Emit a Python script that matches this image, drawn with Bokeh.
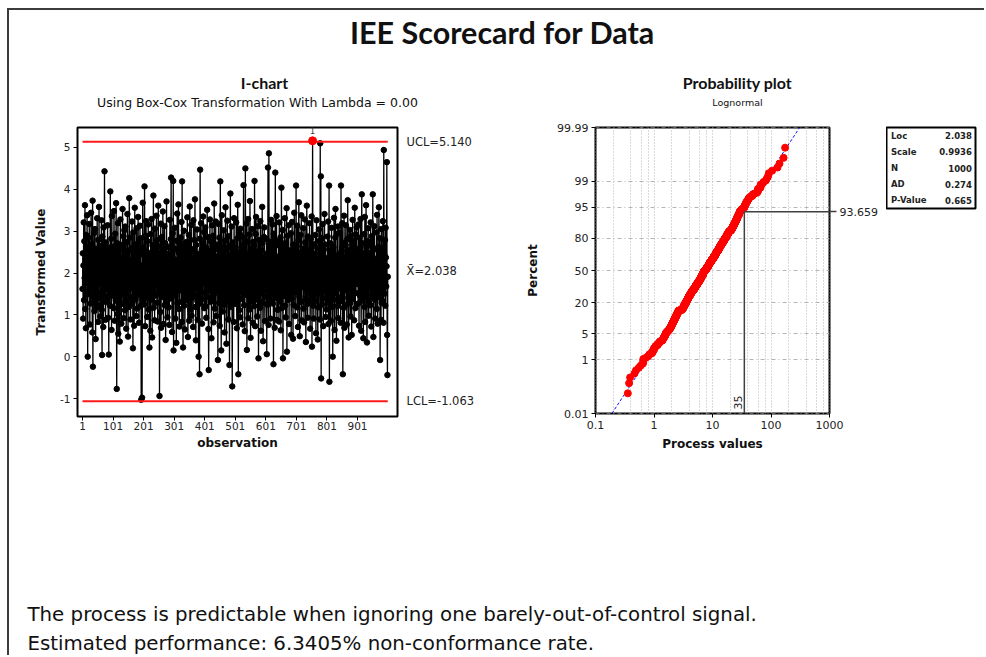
import math
from statistics import NormalDist
from bokeh.plotting import figure
from bokeh.models import Range1d, FixedTicker, LinearAxis, Label, ColumnDataSource
from bokeh.layouts import column, row
from bokeh.core.properties import value
from bokeh.embed import file_html
from bokeh.resources import INLINE

# ---------------- data ----------------
TITLE = "IEE Scorecard for Data"
ICHART_TITLE = "I-chart"
ICHART_SUBTITLE = "Using Box-Cox Transformation With Lambda = 0.00"
PROB_TITLE = "Probability plot"
PROB_SUBTITLE = "Lognormal"

UCL = 5.140
CENTER = 2.038
LCL = -1.063
LIMIT_LABELS = ["UCL=5.140", "X\u0304=2.038", "LCL=-1.063"]
OBS_TICKS = [1, 101, 201, 301, 401, 501, 601, 701, 801, 901]
ICHART_YTICKS = [-1, 0, 1, 2, 3, 4, 5]
ICHART_YTICK_LABELS = ["-1", "0", "1", "2", "3", "4", "5"]

transformed = [
    1.62, 2.47, 0.91, 2.18, 3.21, 1.35, 2.76, 1.88, 3.62, 1.14, 2.33, 0.68, 2.91, 1.77, 2.05, 3.38, 1.49, 0.00, 2.62, 1.93,
    2.84, 1.56, 3.17, 2.29, 0.77, 1.98, 2.52, 1.27, 3.44, 2.11, 1.71, 2.69, 0.58, 3.73, -0.24, 2.38, 1.43, 1.84, 2.96, 1.09,
    2.21, 3.05, 1.66, 0.42, 2.58, 1.92, 2.43, 1.18, 3.31, 2.07, 1.53, 0.83, 2.79, 1.39, 3.58, 2.26, 1.81, 2.64, 0.96, 1.24,
    1.74, 2.36, 3.26, 1.12, 0.04, 2.87, 1.95, 2.14, 0.71, 3.09, 1.47, 2.55, 4.43, 1.61, 2.41, 0.88, 1.31, 2.73, 1.86, 2.02,
    2.49, 1.38, 3.14, 2.17, 0.93, 1.69, 0.05, 2.61, 1.83, 2.32, 1.22, 3.95, 2.08, 1.57, 2.82, 0.64, 3.36, 1.99, 2.44, 1.45,
    1.89, 2.63, 1.16, 3.48, 2.25, 0.86, 1.73, 2.94, 2.12, 1.34, 3.67, 1.58, -0.77, 2.39, 2.71, 1.02, 3.19, 0.55, 1.91, 2.04,
    2.56, 1.44, 0.36, 2.19, 3.28, 1.79, 2.67, 0.79, 1.97, 2.35, 1.26, 3.53, 2.09, 1.64, 2.88, 0.92, 1.51, 3.02, 2.28, 1.11,
    3.11, 1.87, 2.42, 0.67, 1.33, 2.74, 1.59, 3.41, 2.16, 0.48, 1.96, 2.53, 1.19, 3.79, 2.01, 1.68, 2.85, 0.89, 1.42, 2.31,
    1.76, 2.59, 3.23, 1.28, 2.13, 0.20, 2.97, 1.63, 2.46, 0.74, 1.85, 3.56, 2.22, 1.37, 2.68, 1.94, 0.97, 3.07, 2.37, 1.15,
    2.27, 1.48, 3.34, 1.82, 2.72, 0.81, 2.06, 1.67, 3.13, 2.44, 1.21, 2.83, -1.03, 1.93, 2.18, -0.98, 1.56, 3.68, 2.61, 1.32,
    1.97, 2.54, 1.25, 4.07, 2.15, 0.73, 1.78, 2.89, 3.24, 1.41, 2.34, 1.61, 0.95, 2.76, 1.88, 3.16, 2.03, 1.13, 2.48, 0.22,
    1.64, 2.41, 0.62, 2.93, 1.36, 2.17, 3.29, 1.84, 0.46, 2.66, 1.55, 2.24, 3.85, 1.17, 2.57, 1.99, 0.87, 3.06, 2.11, 1.46,
    2.38, 1.72, 3.37, 2.05, 1.29, 2.78, 0.84, 1.91, 3.61, 2.23, 1.52, 2.64, -0.94, 1.81, 2.47, 1.07, 3.18, 0.69, 2.12, 1.66,
    2.86, 1.43, 2.19, 3.47, 1.77, 0.78, 2.52, 1.94, 3.12, 1.23, 2.35, 2.71, 0.40, 1.58, 2.07, 3.71, 1.34, 2.45, 0.94, 1.86,
    1.95, 2.62, 1.18, 2.29, 0.76, 1.69, 3.27, 2.14, 1.39, 2.81, 4.28, 1.83, 2.42, 0.59, 1.51, 2.95, 2.04, 4.20, 0.15, 1.72,
    2.33, 1.47, 3.08, 2.58, 0.91, 1.87, 2.26, 0.33, 1.62, 2.77, 3.42, 1.28, 2.09, 1.76, 3.64, 2.49, 1.14, 0.72, 2.69, 1.98,
    1.59, 2.85, 2.16, 1.31, 3.22, 0.83, 4.19, 1.92, 2.39, 0.22, 1.71, 2.63, 3.01, 1.22, 2.27, 0.65, 1.84, 2.51, 1.44, 2.02,
    2.74, 1.35, 2.21, 3.33, 1.68, 0.47, 2.44, 1.97, 2.91, 0.86, 1.53, 3.59, 2.13, 1.12, 2.58, 1.79, 3.15, 0.98, 2.36, 1.41,
    1.89, 2.53, 0.71, 3.26, 2.08, 1.46, 2.79, 1.63, 3.76, 2.31, 1.19, 0.39, 2.67, 1.86, 2.18, 3.04, 1.33, 0.88, 2.46, 1.74,
    0.00, 2.37, 1.61, -0.42, 2.82, 4.47, 1.27, 2.14, 3.19, 1.93, 2.56, 0.79, 1.38, 2.72, 1.81, 3.35, 2.24, 1.52, 2.98, 1.16,
    2.43, 1.75, 3.09, 1.21, 2.61, 0.93, 2.17, 1.88, 3.51, 2.34, 1.42, 2.86, 0.66, -0.32, 1.96, 2.52, 1.58, 3.28, 2.09, 1.31,
    1.67, 2.75, 0.44, 2.28, 3.14, 1.37, 2.03, 1.94, 2.89, 0.82, 1.49, 3.66, 2.41, 1.15, 2.57, 1.78, 3.23, 0.97, 2.19, 1.83,
    2.32, 1.56, 2.68, -0.08, 1.91, 3.17, 2.11, 1.29, 2.84, 0.74, 1.72, 4.19, 2.46, 1.41, 0.15, 2.23, 3.38, 1.87, 2.63, 1.08,
    1.79, 2.49, 3.02, 1.24, 2.15, 0.58, 2.77, 1.97, 3.57, 1.45, 2.36, 0.31, 1.64, 2.59, 3.25, 2.06, 1.33, 0.89, 2.88, 1.86,
    2.27, -0.20, 1.73, 2.64, 3.90, 1.19, 2.42, 1.58, 3.11, 2.01, -0.71, 1.84, 2.73, 1.36, 2.18, 0.83, 3.31, 1.95, 2.55, 1.47,
    1.92, 2.61, 1.26, 3.21, 2.39, 0.68, 1.76, 2.83, 3.63, 2.12, -0.42, 1.53, 2.48, 1.11, 2.95, 1.89, 0.94, 3.06, 2.22, 1.64,
    2.53, 1.38, 2.87, 1.81, 0.77, 2.24, 1.67, 4.10, 2.05, 1.23, 2.69, 0.61, 1.94, 4.50, 2.31, 1.48, 3.18, 2.76, 0.16, 1.83,
    2.14, 1.59, 3.29, 0.92, 2.46, 1.74, 2.92, 1.13, 3.72, 2.37, 0.45, 1.98, 2.58, 1.42, 2.21, 3.05, 1.66, 0.81, 2.74, 1.31,
    1.85, 2.67, 1.21, 4.20, 2.09, 0.73, 1.61, 2.93, 3.34, 2.28, 1.46, 2.51, 0.96, 1.92, 3.12, 2.17, -0.04, 1.35, 2.79, 1.77,
    2.42, 1.17, 3.24, 1.88, 0.62, 2.55, 2.03, 1.52, 3.58, 2.71, 1.29, 0.37, 2.19, 1.96, 2.86, 3.09, 1.43, 0.85, 2.34, 1.69,
    2.26, 1.58, 2.81, 0.06, 1.93, 2.47, 1.24, 4.52, 2.12, 0.76, 4.86, 1.71, 2.63, 1.37, 2.35, 0.91, 1.86, 3.27, 2.74, 1.49,
    1.81, 2.58, 3.16, 1.27, 2.21, -0.18, 2.94, 1.63, 2.44, 0.69, 1.95, 4.40, 2.08, 1.41, 2.66, 3.36, 0.88, 1.74, 2.29, 1.12,
    2.39, 1.53, 2.76, 0.84, 3.21, 1.97, 2.15, 1.32, 2.85, 0.63, 1.78, 4.04, 2.52, 1.16, 2.33, 3.03, -0.04, 1.89, 2.61, 1.45,
    1.68, 2.43, 3.31, 1.22, 2.72, 0.94, 2.06, 1.84, 3.55, 0.12, 2.25, 1.57, 2.89, 1.36, 2.18, 3.14, 0.78, 1.92, 2.54, 1.47,
    2.31, 1.73, 2.95, 0.52, 2.13, 1.39, 3.22, 2.47, 1.86, 0.43, 2.68, 1.24, 2.02, 3.44, 1.61, 2.57, 0.97, 1.94, 2.36, 4.09,
    1.54, 2.64, 1.18, 3.13, 2.27, 0.71, 1.83, 2.78, 3.69, 2.11, 1.43, 0.49, 2.49, 1.96, 2.91, 1.31, 3.38, 0.87, 2.22, 1.76,
    2.41, 1.67, 3.07, 1.15, 2.58, 0.82, 2.16, 1.91, 3.28, 2.73, 1.37, 0.35, 1.79, 2.44, 3.61, 2.04, 1.26, 0.93, 2.87, 1.58,
    1.87, 2.53, 1.34, 3.19, 2.28, 0.67, 1.72, 2.82, 2.09, 1.47, 3.35, 0.24, 1.95, 5.16, 2.37, 1.22, 2.69, 0.91, 1.64, 2.18,
    2.46, 1.33, 2.91, 1.77, 0.56, 2.23, 3.26, 1.49, 2.61, 1.94, 0.41, 2.07, 1.18, 2.76, 3.04, 1.62, 2.34, 0.89, 5.10, 1.85,
    4.31, -0.52, 2.14, 1.68, 2.83, 1.25, 3.17, 2.42, 0.73, 1.91, 2.56, 1.39, 3.41, 2.01, 1.57, 2.68, 0.95, 1.82, 2.29, 1.13,
    2.36, 1.61, 2.87, 1.29, 3.23, 0.78, 2.12, 4.09, -0.60, 1.93, 2.49, 1.45, 2.71, 0.86, 1.76, 3.08, 2.24, 1.19, 2.58, 0.00,
    1.84, 2.62, 1.36, 3.32, 2.19, 0.64, 1.97, 2.85, 3.53, 1.52, 2.41, 0.38, 1.71, 2.27, 2.94, 1.21, 3.11, 0.92, 2.06, 1.63,
    2.44, 1.78, 2.97, 1.32, 2.15, 0.81, 4.09, 1.89, 2.53, 1.44, 3.19, 2.31, -0.42, 1.66, 2.72, 1.17, 3.37, 0.69, 2.08, 1.92,
    1.59, 2.67, 3.14, 1.24, 2.38, 0.77, 1.95, 2.81, 3.74, 2.16, 1.41, 0.46, 2.54, 1.83, 2.26, 3.03, 1.28, 0.96, 2.89, 1.73,
    2.21, 0.52, 2.78, 1.63, 3.27, 1.38, 2.43, 1.91, 2.65, 0.87, 1.79, 3.56, 2.12, 1.16, 2.92, 1.52, 2.35, 3.09, 1.86, 2.04,
    1.74, 2.57, 1.27, 3.16, 2.32, 0.74, 1.98, 2.84, 1.46, 2.18, 3.29, 1.67, 0.62, 2.49, 3.88, 1.34, 2.71, 1.89, 2.07, 0.44,
    2.39, 1.56, 2.93, 1.19, 3.34, 0.83, 2.24, 1.81, 3.62, 2.61, 1.43, 0.34, 2.05, 1.95, 2.76, 3.07, 1.31, 0.98, 2.47, 1.69,
    1.93, 2.66, 1.23, 3.21, 2.14, 0.72, 1.77, 2.88, 2.41, 1.48, 3.88, 2.02, 0.47, 1.62, 2.56, 3.12, 1.37, 2.29, 0.91, 1.85,
    2.33, 1.71, 2.97, 1.14, 3.39, 2.18, 0.79, 1.94, 2.62, 1.42, 3.57, 2.26, 1.58, 2.83, -0.08, 1.87, 2.45, 0.88, 3.05, 1.29,
    1.96, 2.58, 1.33, 3.24, 2.11, 0.81, 4.94, 1.76, 2.43, 1.51, 2.79, 1.22, 3.08, 2.37, 1.68, 2.16, 4.65, 0.52, -0.44, 1.91,
]

LOC = 2.038
SCALE = 0.9936
STATS_NAMES = ["Loc", "Scale", "N", "AD", "P-Value"]
STATS_VALUES = ["2.038", "0.9936", "1000", "0.274", "0.665"]
PCT_TICKS = [0.01, 1, 5, 20, 50, 80, 95, 99, 99.99]
PCT_TICK_LABELS = ["0.01", "1", "5", "20", "50", "80", "95", "99", "99.99"]
X_TICKS = [0.1, 1, 10, 100, 1000]
X_TICK_LABELS = ["0.1", "1", "10", "100", "1000"]
X_MINOR = [0.2, 0.4, 0.6, 0.8, 2, 4, 6, 8, 20, 40, 60, 80, 200, 400, 600, 800]
TARGET = 35
TARGET_PCT = 93.659
TARGET_PCT_LABEL = "93.659"
FOOTER_LINES = [
    "The process is predictable when ignoring one barely-out-of-control signal.",
    "Estimated performance: 6.3405% non-conformance rate.",
]

# ---------------- styling ----------------
FONT = "DejaVu Sans"
TFONT = "Lato"
GRID = "#b4b4b4"
N = len(transformed)
obs = list(range(1, N + 1))
nd = NormalDist()


def base_fig(**kw):
    p = figure(output_backend="svg", toolbar_location=None, tools="", **kw)
    p.background_fill_color = "white"
    p.border_fill_color = "white"
    return p


def style_axis(ax, size="10.5px"):
    ax.axis_line_color = None
    ax.major_tick_line_color = "black"
    ax.major_tick_out = 4
    ax.major_tick_in = 0
    ax.minor_tick_line_color = None
    ax.major_label_text_font = FONT
    ax.major_label_text_font_size = size
    ax.major_label_text_color = "#222222"
    ax.major_label_standoff = 3
    ax.axis_label_text_font = FONT
    ax.axis_label_text_font_style = "bold"
    ax.axis_label_text_font_size = "12px"
    ax.axis_label_text_color = "#111111"


# ---------------- header (main title + panel titles) ----------------
HW, HH = 975, 110
hdr = base_fig(width=HW, height=HH, x_range=Range1d(0, HW), y_range=Range1d(0, HH),
               min_border=0, x_axis_location=None, y_axis_location=None)
hdr.outline_line_color = None
hdr.grid.visible = False
# (text, x centre, distance from top, font, style, size)
HEADER_TEXTS = [
    (TITLE, 493, 21, TFONT, "bold", "30.5px"),
    (ICHART_TITLE, 255, 72, TFONT, "bold", "16px"),
    (ICHART_SUBTITLE, 248, 92, FONT, "normal", "12.5px"),
    (PROB_TITLE, 728, 72, TFONT, "bold", "16px"),
    (PROB_SUBTITLE, 728, 92, FONT, "normal", "9.5px"),
]
for txt, xc, top, fnt, sty, sz in HEADER_TEXTS:
    hdr.text(x=[xc], y=[HH - top], text=[txt], text_align="center", text_baseline="middle",
             text_font=value(fnt), text_font_style=sty, text_font_size=sz, text_color="#111111")

# ---------------- I-chart ----------------
IX = (-15.4, 1031.9)
IY = (-1.43, 5.478)
ic = base_fig(frame_width=320, frame_height=289, x_range=Range1d(*IX), y_range=Range1d(*IY),
              min_border_left=68, min_border_right=122, min_border_top=3, min_border_bottom=43)
ic.grid.visible = False
ic.outline_line_color = "black"
ic.outline_line_width = 2
ic.xaxis.ticker = FixedTicker(ticks=OBS_TICKS)
ic.yaxis.ticker = FixedTicker(ticks=ICHART_YTICKS)
ic.yaxis.major_label_overrides = {t: lab for t, lab in zip(ICHART_YTICKS, ICHART_YTICK_LABELS)}
ic.xaxis.axis_label = "observation"
ic.yaxis.axis_label = "Transformed Value"
for ax in ic.axis:
    style_axis(ax)
ic.xaxis.major_label_standoff = 1
ic.xaxis.axis_label_standoff = 3
ic.yaxis.axis_label_standoff = 9

ic.line(obs, transformed, line_color="black", line_width=1.3)
ic.scatter(obs, transformed, size=5.5, color="black")
ic.line([obs[0], obs[-1]], [UCL, UCL], line_color="#ff1a1a", line_width=2)
ic.line([obs[0], obs[-1]], [LCL, LCL], line_color="#ff1a1a", line_width=2)
ooc = [(o, v) for o, v in zip(obs, transformed) if v > UCL or v < LCL]
ic.scatter([o for o, v in ooc], [v for o, v in ooc], size=8, color="#ff0000")
for o, v in ooc:
    ic.add_layout(Label(x=o, y=v, y_offset=10, text="1", text_align="center", text_baseline="middle",
                        text_font=FONT, text_font_size="8px", text_color="#333333"))

lim_axis = LinearAxis(ticker=FixedTicker(ticks=[UCL, CENTER, LCL]),
                      major_label_overrides={UCL: LIMIT_LABELS[0], CENTER: LIMIT_LABELS[1], LCL: LIMIT_LABELS[2]})
style_axis(lim_axis, "11.5px")
lim_axis.major_tick_line_color = None
lim_axis.major_tick_out = 0
lim_axis.major_label_standoff = 9
ic.add_layout(lim_axis, "right")

# ---------------- probability plot ----------------
zticks = [nd.inv_cdf(p / 100) for p in PCT_TICKS]
zlo, zhi = zticks[0], zticks[-1]
PX = (0.0999999, 1000.0001)
pp = base_fig(x_axis_type="log", frame_width=234, frame_height=286,
              x_range=Range1d(*PX), y_range=Range1d(zlo - 1e-9, zhi + 1e-9),
              min_border_left=76, min_border_right=57, min_border_top=7, min_border_bottom=42)
pp.outline_line_color = "black"
pp.outline_line_width = 2
pp.xaxis.ticker = FixedTicker(ticks=X_TICKS, minor_ticks=X_MINOR)
pp.xaxis.major_label_overrides = {t: lab for t, lab in zip(X_TICKS, X_TICK_LABELS)}
pp.yaxis.ticker = FixedTicker(ticks=zticks)
pp.yaxis.major_label_overrides = {z: lab for z, lab in zip(zticks, PCT_TICK_LABELS)}
pp.xaxis.axis_label = "Process values"
pp.yaxis.axis_label = "Percent"
for ax in pp.axis:
    style_axis(ax, "11px")
pp.xaxis.axis_label_standoff = 5
pp.yaxis.axis_label_standoff = 14
pp.xgrid.grid_line_color = GRID
pp.xgrid.grid_line_dash = "1 2"
pp.xgrid.minor_grid_line_color = GRID
pp.xgrid.minor_grid_line_dash = "1 2"
pp.ygrid.grid_line_color = GRID
pp.ygrid.grid_line_dash = "4 3 1 3"

pp.line([math.exp(LOC + SCALE * zlo), math.exp(LOC + SCALE * zhi)], [zlo, zhi],
        line_color="#1010ff", line_dash="3 2", line_width=1)
xs = sorted(math.exp(v) for v in transformed)
ys = [nd.inv_cdf((i + 1 - 0.3) / (N + 0.4)) for i in range(N)]
pp.scatter(xs, ys, size=7, color="#ff0000")

z_t = nd.inv_cdf(TARGET_PCT / 100)
pp.line([TARGET, TARGET, PX[1]], [zlo, z_t, z_t], line_color="#404040", line_width=1.5)
pp.add_layout(Label(x=TARGET, y=zlo, x_offset=-2, y_offset=4, text=str(TARGET), angle=math.pi / 2,
                    text_align="left", text_baseline="bottom", text_font=FONT,
                    text_font_size="11px", text_color="#222222"))
t_axis = LinearAxis(ticker=FixedTicker(ticks=[z_t]), major_label_overrides={z_t: TARGET_PCT_LABEL})
style_axis(t_axis, "11px")
t_axis.major_tick_out = 7
t_axis.major_tick_line_color = "#404040"
t_axis.major_tick_line_width = 1.5
t_axis.major_label_standoff = 3
pp.add_layout(t_axis, "right")

# ---------------- stats box ----------------
lg = base_fig(frame_width=89, frame_height=81, x_range=Range1d(0, 1), y_range=Range1d(0, len(STATS_NAMES)),
              min_border_left=0, min_border_right=2, min_border_top=7, min_border_bottom=247,
              x_axis_location=None, y_axis_location=None)
lg.grid.visible = False
lg.outline_line_color = "black"
lg.outline_line_width = 2
ssrc = ColumnDataSource(dict(name=STATS_NAMES, val=STATS_VALUES,
                             y=[len(STATS_NAMES) - i - 0.5 for i in range(len(STATS_NAMES))]))
lg.text(x=0.05, y="y", text="name", source=ssrc, text_baseline="middle", text_font=value(FONT),
        text_font_style="bold", text_font_size="8.5px", text_color="#222222")
lg.text(x=0.96, y="y", text="val", source=ssrc, text_baseline="middle", text_align="right",
        text_font=value(FONT), text_font_style="bold", text_font_size="8.5px", text_color="#222222")

# ---------------- footer ----------------
FH = 200
ft = base_fig(width=HW, height=FH, x_range=Range1d(0, HW), y_range=Range1d(0, FH),
              min_border=0, x_axis_location=None, y_axis_location=None)
ft.outline_line_color = None
ft.grid.visible = False
fsrc = ColumnDataSource(dict(t=FOOTER_LINES, y=[FH - 159 - 29 * i for i in range(len(FOOTER_LINES))]))
ft.text(x=18, y="y", text="t", source=fsrc, text_baseline="middle", text_font=value(FONT),
        text_font_size="19.8px", text_color="#111111")

layout = column(hdr, row(ic, pp, lg), ft, margin=(8, 0, 0, 7),
                styles={"border-top": "2px solid #3c3c3c", "border-left": "2px solid #3c3c3c"})

open("out.html", "w").write(file_html(layout, INLINE))
